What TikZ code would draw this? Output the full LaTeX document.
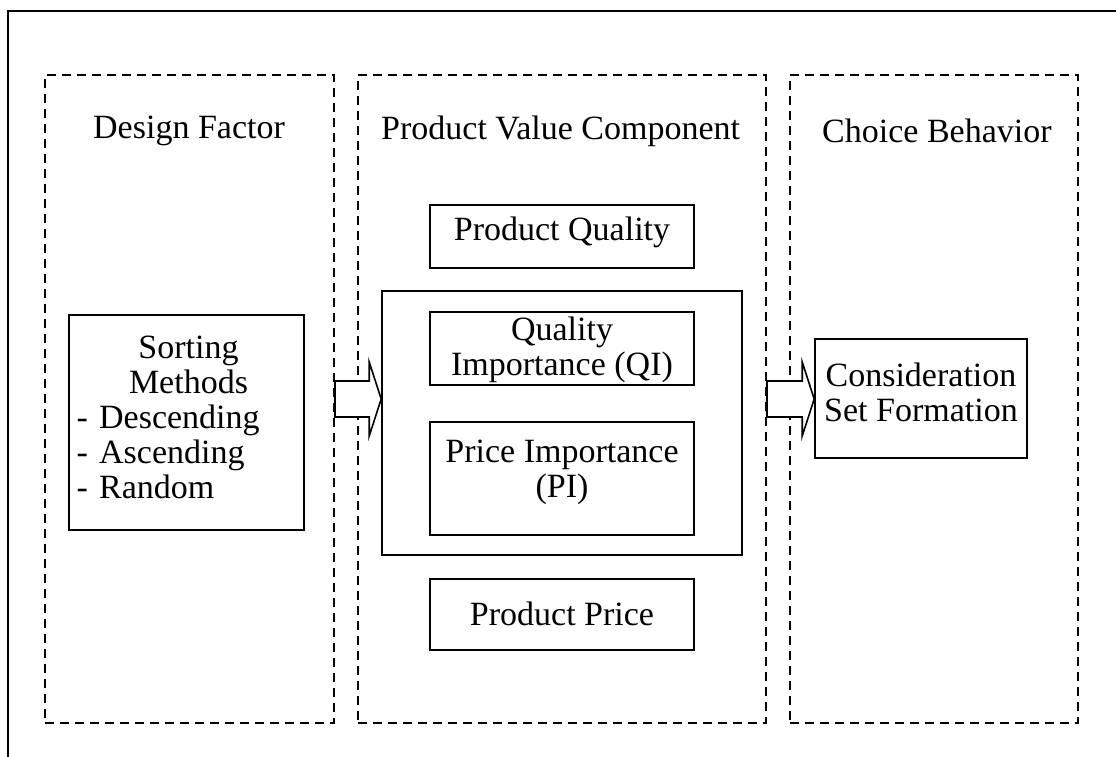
\documentclass[tikz,border=0pt]{standalone}
\usepackage{fontspec}
\setmainfont{Liberation Serif}
\usetikzlibrary{calc}
\tikzset{
  every node/.style={font=\fontsize{34}{35}\selectfont, inner sep=0pt},
  colbox/.style={draw, line width=2pt, dash pattern=on 9pt off 6pt},
  sbox/.style={draw, line width=1.6pt},
  txt/.style={align=center},
  blockarrow/.style={draw, line width=1.6pt, fill=white, line join=miter},
}
\newcommand{\blockarr}[2]{%
  \draw[blockarrow] ($(#1)+(0,18)$) -- ($(#2)+(-12,18)$) -- ($(#2)+(-12,37)$) -- (#2)
    -- ($(#2)+(-12,-37)$) -- ($(#2)+(-12,-18)$) -- ($(#1)+(0,-18)$) -- cycle;}
\begin{document}
\begin{tikzpicture}[x=1pt,y=-1pt]
\useasboundingbox (0,0) rectangle (1116,756);
\clip (0,0) rectangle (1116,756);
% outer frame (only left and top visible)
\draw[line width=2pt] (8,800) -- (8,11) -- (1130,11);
% columns
\node[colbox, minimum width=289pt, minimum height=648pt] (c1) at (189.5,399) {};
\node[colbox, minimum width=408pt, minimum height=648pt] (c2) at (562,399) {};
\node[colbox, minimum width=288pt, minimum height=648pt] (c3) at (934,399) {};
% headers
\node[anchor=west] (h1) at (93,131) {Design Factor};
\node[anchor=west] (h2) at (381,131) {Product Value Component};
\node[anchor=west] (h3) at (822,131) {Choice Behavior};
% design factor box
\node[sbox, minimum width=235pt, minimum height=215pt] (sort) at (186.5,422.5) {};
\node[align=left, text width=224pt] (sortt) at ($(sort)+(2,-5)$) {{\centering Sorting\\ Methods\par}\raggedright - Descending\\ - Ascending\\ - Random};
% product value component
\node[sbox, minimum width=264pt, minimum height=63pt] (pq) at (562,236.5) {};
\node[txt] (pqt) at ($(pq)+(0,-4)$) {Product Quality};
\node[sbox, minimum width=360pt, minimum height=264pt] (imp) at (562,423) {};
\node[sbox, minimum width=264pt, minimum height=73pt] (qi) at (562,348.5) {};
\node[txt] (qit) at ($(qi)+(0,1)$) {Quality\\ Importance (QI)};
\node[sbox, minimum width=264pt, minimum height=113pt] (pi) at (562,478.5) {};
\node[txt] (pit) at ($(pi)+(0,-6)$) {Price Importance\\ (PI)};
\node[sbox, minimum width=264pt, minimum height=71pt] (pp) at (562,614.5) {};
\node[txt] (ppt) at ($(pp)+(0,-1)$) {Product Price};
% choice behavior
\node[sbox, minimum width=212pt, minimum height=119pt] (cs) at (921,398.5) {};
\node[txt] (cst) at ($(cs)+(0,-6)$) {Consideration\\ Set Formation};
% block arrows
\coordinate (a1s) at (c1.east);
\coordinate (a1e) at (imp.west |- c1.east);
\blockarr{a1s}{a1e}
\coordinate (a2s) at (c2.east);
\coordinate (a2e) at (cs.west |- c2.east);
\blockarr{a2s}{a2e}
\end{tikzpicture}
\end{document}
